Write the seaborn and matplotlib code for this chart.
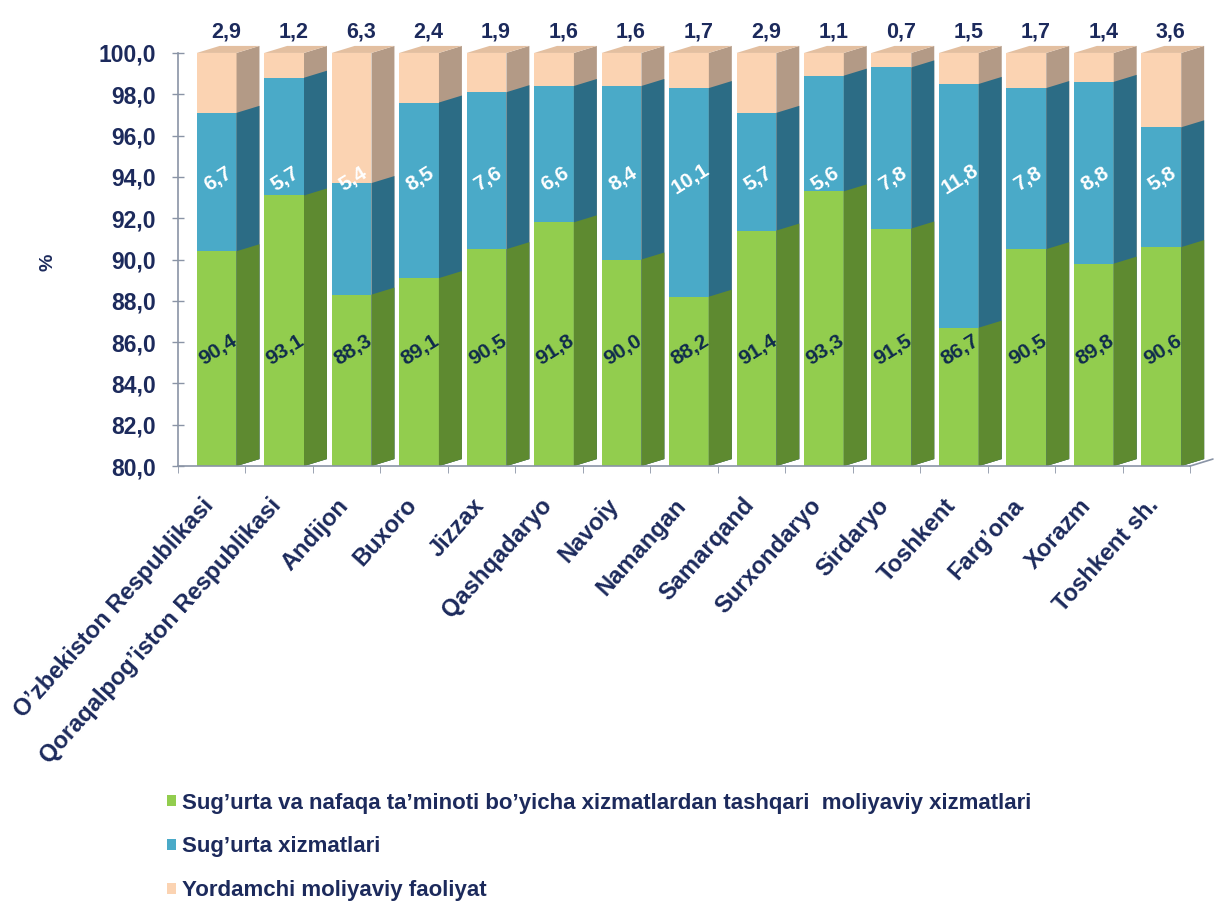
import numpy as np
import matplotlib
matplotlib.use("Agg")
import matplotlib.pyplot as plt
import matplotlib.transforms as mtransforms
from matplotlib.patches import Polygon, Patch
from matplotlib.ticker import FuncFormatter, FixedLocator
import seaborn as sns

# data
regions = ["O\u2019zbekiston Respublikasi", "Qoraqalpog\u2019iston Respublikasi", "Andijon", "Buxoro",
           "Jizzax", "Qashqadaryo", "Navoiy", "Namangan", "Samarqand", "Surxondaryo",
           "Sirdaryo", "Toshkent", "Farg\u2019ona", "Xorazm", "Toshkent sh."]
financial = [90.4, 93.1, 88.3, 89.1, 90.5, 91.8, 90.0, 88.2, 91.4, 93.3, 91.5, 86.7, 90.5, 89.8, 90.6]
insurance = [6.7, 5.7, 5.4, 8.5, 7.6, 6.6, 8.4, 10.1, 5.7, 5.6, 7.8, 11.8, 7.8, 8.8, 5.8]
auxiliary = [2.9, 1.2, 6.3, 2.4, 1.9, 1.6, 1.6, 1.7, 2.9, 1.1, 0.7, 1.5, 1.7, 1.4, 3.6]
series_names = ["Sug\u2019urta va nafaqa ta\u2019minoti bo\u2019yicha xizmatlardan tashqari  moliyaviy xizmatlari",
                "Sug\u2019urta xizmatlari",
                "Yordamchi moliyaviy faoliyat"]

# colours: front face, side face
front = ["#92CD4E", "#4AAAC8", "#FBD3B2"]
side = ["#5E8A30", "#2C6C85", "#B39A86"]
top_col = "#E3BFA0"
navy = "#1C2A5C"
grey = "#8A94A6"

sns.set_style("white")
plt.rcParams["font.family"] = ["Liberation Sans", "DejaVu Sans"]

fig = plt.figure(figsize=(12.18, 9.05), dpi=100)
ax = fig.add_axes([0.146, 0.485, 0.831, 0.4565])

fin = np.array(financial)
ins = np.array(insurance)
aux = np.array(auxiliary)
layers = [fin + ins + aux, fin + ins, fin]
layer_cols = [front[2], front[1], front[0]]
layer_side = [side[2], side[1], side[0]]

bar_w = 0.59
shift = 0.075
depth = 0.34
ymin, ymax = 80, 100

for vals, col in zip(layers, layer_cols):
    sns.barplot(x=regions, y=np.minimum(vals, ymax), color=col, width=bar_w,
                saturation=1, ax=ax, linewidth=0)
for p in ax.patches:
    p.set_x(p.get_x() + shift)

# 3D side and top faces
xs = np.arange(len(regions))
for vals, col in zip(layers, layer_side):
    for x, v in zip(xs, np.minimum(vals, ymax)):
        xr = x + shift + bar_w / 2
        poly = Polygon([(xr, ymin), (xr + depth, ymin + depth),
                        (xr + depth, v + depth), (xr, v)],
                       closed=True, facecolor=col, edgecolor="none", clip_on=False, zorder=2)
        ax.add_patch(poly)
for x in xs:
    xl = x + shift - bar_w / 2
    xr = x + shift + bar_w / 2
    ax.add_patch(Polygon([(xl, ymax), (xr, ymax), (xr + depth, ymax + depth), (xl + depth, ymax + depth)],
                         closed=True, facecolor=top_col, edgecolor="none", clip_on=False, zorder=2))

fmt = lambda v: f"{v:.1f}".replace(".", ",")

# value labels
for x in xs:
    ax.text(x + shift + 0.14, 101.0, fmt(aux[x]), ha="center", va="center",
            fontsize=15.5, fontweight="bold", color=navy, clip_on=False)
    ax.text(x + shift + 0.02, 93.9, fmt(ins[x]), ha="center", va="center", rotation=32,
            fontsize=15, fontweight="bold", color="white", zorder=5)
    ax.text(x + shift + 0.02, 85.6, fmt(fin[x]), ha="center", va="center", rotation=32,
            fontsize=15, fontweight="bold", color="#0F2B4C", zorder=5)

ax.set_ylim(ymin, ymax)
ax.set_xlim(-0.5, len(regions) - 0.5)
ax.yaxis.set_major_locator(FixedLocator(np.arange(80, 100.1, 2)))
ax.yaxis.set_major_formatter(FuncFormatter(lambda v, pos: fmt(v)))
ax.tick_params(axis="y", direction="inout", length=8, width=1, color=grey,
               labelsize=16.5, labelcolor=navy, left=True, pad=12)
for lab in ax.get_yticklabels():
    lab.set_fontweight("bold")

ax.set_xticks(xs)
ax.set_xticks(np.arange(-0.5, len(regions) + 0.5, 1), minor=True)
ax.tick_params(axis="x", which="major", length=0)
ax.tick_params(axis="x", which="minor", direction="out", length=5, color=grey, bottom=True)
ax.set_xticklabels(regions, rotation=48, ha="right", va="top", rotation_mode="anchor",
                   fontsize=17, fontweight="bold", color=navy)
offset = mtransforms.ScaledTranslation(-0.10, -0.23, fig.dpi_scale_trans)
for lab in ax.xaxis.get_majorticklabels():
    lab.set_transform(lab.get_transform() + offset)

for s in ["top", "right"]:
    ax.spines[s].set_visible(False)
for s in ["left", "bottom"]:
    ax.spines[s].set_color(grey)
    ax.spines[s].set_linewidth(1.2)
# little floor edge at the right end
ax.plot([len(regions) - 0.5, len(regions) - 0.5 + depth], [ymin, ymin + depth],
        color=grey, lw=1.2, clip_on=False)

ax.set_xlabel("")
ax.set_ylabel("%", fontsize=14, fontweight="bold", color=navy)
ax.yaxis.set_label_coords(-0.12, 0.494)

handles = [Patch(facecolor=c, edgecolor="none") for c in front]
fig.legend(handles, series_names, loc="upper left", bbox_to_anchor=(0.137, 0.124),
           frameon=False, borderpad=0, borderaxespad=0, handlelength=0.4, handleheight=0.4,
           handletextpad=0.3, labelspacing=1.02,
           prop={"family": ["Liberation Sans", "DejaVu Sans"], "weight": "bold", "size": 16},
           labelcolor=navy)

fig.savefig("out.png", dpi=100)
